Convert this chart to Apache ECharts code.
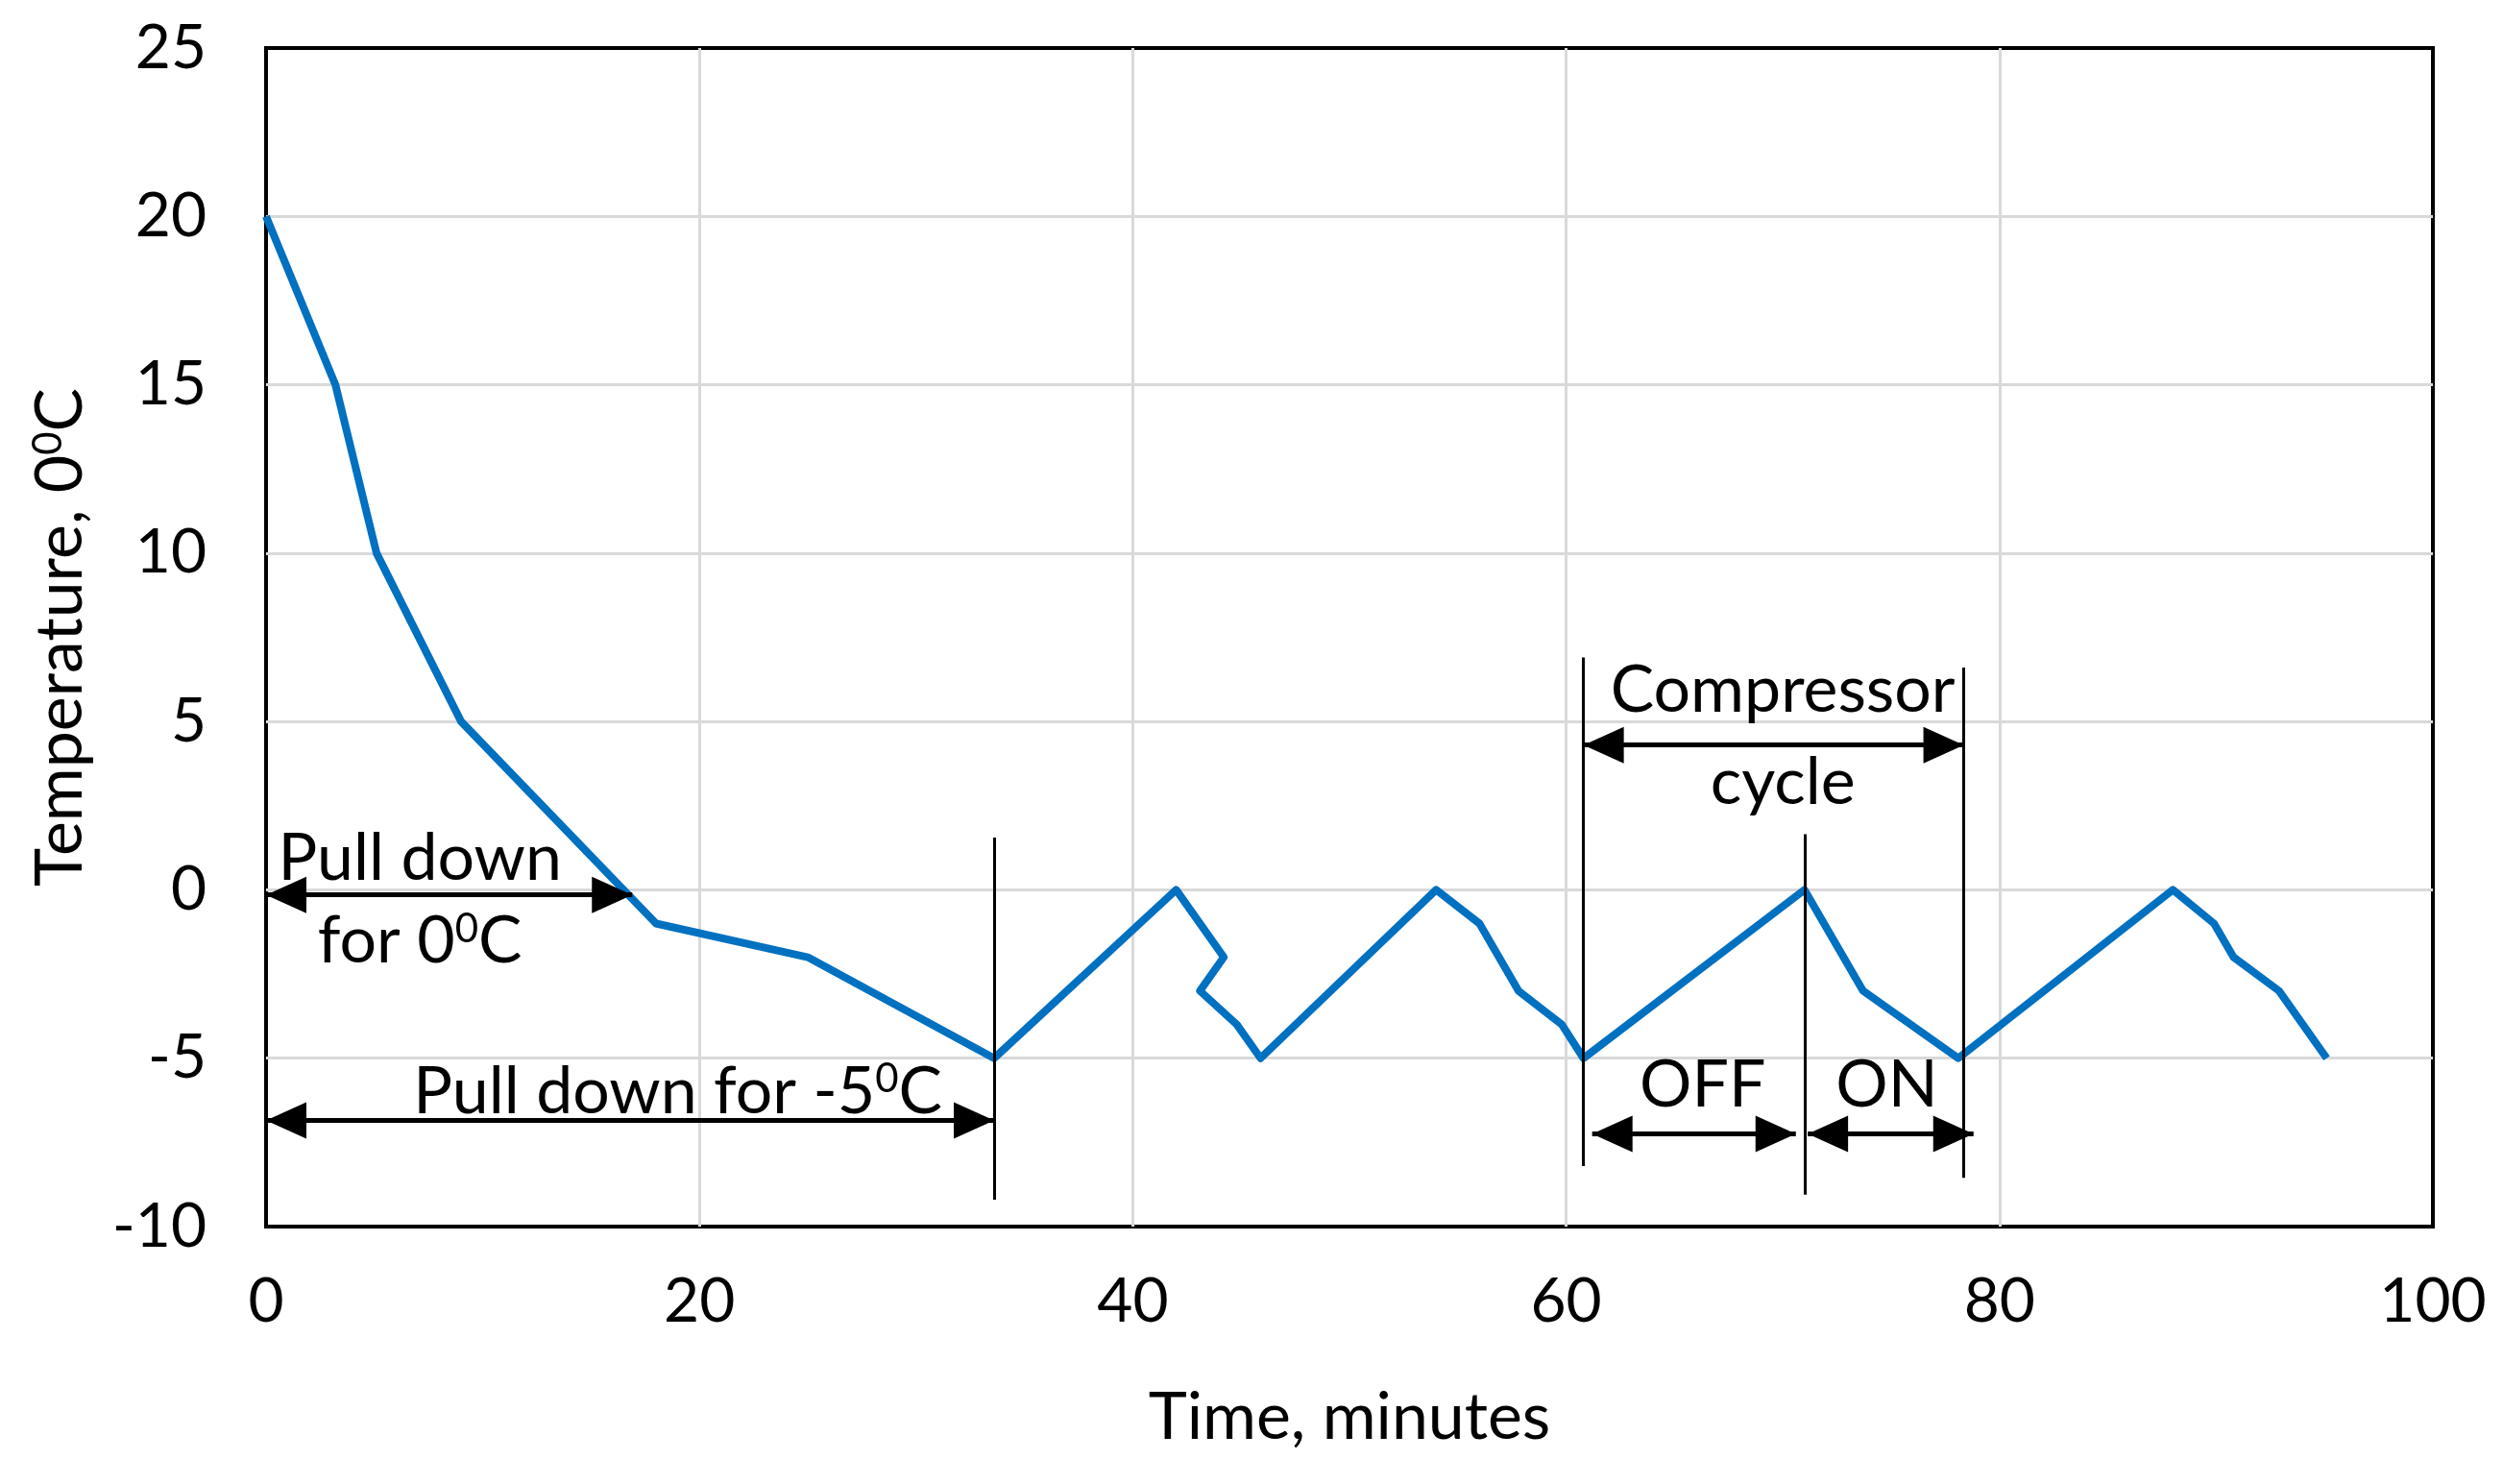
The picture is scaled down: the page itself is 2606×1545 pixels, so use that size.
<!DOCTYPE html>
<html><head><meta charset="utf-8">
<script src="https://cdn.jsdelivr.net/npm/echarts@6/dist/echarts.min.js"></script>
<style>html,body{margin:0;padding:0;background:#fff}#c{width:2606px;height:1545px}</style>
</head><body><div id="c"></div>
<script>
// ---- data ----
const timeMin = [0, 3.2, 5.1, 9, 18, 25, 33.6, 42, 44.2, 43.1, 44.8, 45.9, 54, 56, 57.8, 59.8, 60.8, 71, 73.7, 78.1, 88, 89.9, 90.8, 92.9, 95.1];
const tempC   = [20, 15, 10, 5, -1, -2, -5, 0, -2, -3, -4, -5, 0, -1, -3, -4, -5, 0, -3, -5, 0, -1, -2, -3, -5];
const xTicks = [0, 20, 40, 60, 80, 100];
const xTickLabels = ['0', '20', '40', '60', '80', '100'];
const yTicks = [-10, -5, 0, 5, 10, 15, 20, 25];
const yTickLabels = ['-10', '-5', '0', '5', '10', '15', '20', '25'];
const xAxisTitle = 'Time, minutes';
const yAxisTitle = 'Temperature, 0⁰C';
// annotation texts and their anchor (data coords)
const noteTexts = ['Pull down', 'for 0⁰C', 'Pull down for -5⁰C', 'Compressor', 'cycle', 'OFF', 'ON'];
const noteX = [7.1, 7.1, 19.0, 70.0, 70.0, 66.3, 74.8];
const noteY = [0.93, -1.53, -6.0, 5.92, 3.18, -5.8, -5.8];
// vertical marker lines
const markerX = [33.6, 60.8, 71, 78.35];
const markerTop = [1.55, 6.9, 1.65, 6.6];
const markerBottom = [-9.2, -8.2, -9.05, -8.55];
// double-headed span arrows
const spanFrom = [0, 0, 60.8, 61.2, 71.15];
const spanTo = [16.9, 33.6, 78.35, 70.6, 78.8];
const spanY = [-0.15, -6.85, 4.3, -7.25, -7.25];

const FONT = 'Lato';
function richText(t) {
  return t.split('⁰').map((p, i) => (i ? '{s|0}' : '') + (p ? '{n|' + p + '}' : '')).join('');
}
const richStyles = {
  n: { fontSize: 68, fontFamily: FONT, color: '#000', textBorderWidth: 0 },
  s: { fontSize: 42, fontFamily: FONT, color: '#000', textBorderWidth: 0, verticalAlign: 'top' }
};

const linePts = timeMin.map((t, i) => [t, tempC[i]]);
const notePts = noteTexts.map((t, i) => [noteX[i], noteY[i], t]);

const head = { symbol: 'triangle', symbolSize: [38, 42], symbolOffset: [0, 21] };
const markData = [];
markerX.forEach((x, i) => {
  markData.push([{ coord: [x, markerTop[i]], symbol: 'none' }, { coord: [x, markerBottom[i]], symbol: 'none' }]);
});
spanFrom.forEach((x, i) => {
  markData.push([
    Object.assign({ coord: [x, spanY[i]], lineStyle: { width: 5 } }, head),
    Object.assign({ coord: [spanTo[i], spanY[i]] }, head)
  ]);
});

const chart = echarts.init(document.getElementById('c'), null, { renderer: 'canvas' });
chart.setOption({
  animation: false,
  backgroundColor: '#fff',
  textStyle: { fontFamily: FONT },
  grid: { left: 277, right: 73, top: 50, bottom: 268, show: true, borderColor: '#000', borderWidth: 4, backgroundColor: 'transparent' },
  xAxis: {
    type: 'value', min: 0, max: 100, interval: 20,
    axisLine: { show: false }, axisTick: { show: false },
    splitLine: { show: true, showMinLine: false, showMaxLine: false, lineStyle: { color: '#d9d9d9', width: 3 } },
    axisLabel: { fontSize: 64, color: '#000', margin: 46, fontFamily: FONT,
      formatter: v => { const k = xTicks.indexOf(v); return k >= 0 ? xTickLabels[k] : ''; } },
    name: xAxisTitle, nameLocation: 'middle', nameGap: 165,
    nameTextStyle: { fontSize: 68, color: '#000', fontFamily: FONT }
  },
  yAxis: {
    type: 'value', min: -10, max: 25, interval: 5,
    axisLine: { show: false }, axisTick: { show: false },
    splitLine: { show: true, showMinLine: false, showMaxLine: false, lineStyle: { color: '#d9d9d9', width: 3 } },
    axisLabel: { fontSize: 64, color: '#000', margin: 62, fontFamily: FONT,
      formatter: v => { const k = yTicks.indexOf(v); return k >= 0 ? yTickLabels[k] : ''; } },
    name: richText(yAxisTitle), nameLocation: 'middle', nameGap: 180,
    nameTextStyle: { fontSize: 68, color: '#000', fontFamily: FONT, rich: richStyles }
  },
  series: [
    {
      name: 'notes', type: 'scatter', z: 2, symbolSize: 0, silent: true,
      itemStyle: { color: '#000', opacity: 1 },
      data: notePts,
      label: { show: true, position: 'inside', color: '#000', opacity: 1, textBorderWidth: 0, fontFamily: FONT, fontSize: 68,
        formatter: p => richText(p.data[2]), rich: richStyles },
      markLine: {
        silent: true, animation: false, symbol: ['none', 'none'],
        lineStyle: { color: '#000', width: 3, type: 'solid', opacity: 1 },
        itemStyle: { color: '#000', opacity: 1 },
        label: { show: false },
        emphasis: { disabled: true },
        data: markData
      }
    },
    {
      name: 'Temperature', type: 'line', z: 3, data: linePts,
      showSymbol: false, symbol: 'none',
      lineStyle: { color: '#0070C0', width: 8, join: 'round' },
      itemStyle: { color: '#0070C0' }
    }
  ]
});
</script>
</body></html>
